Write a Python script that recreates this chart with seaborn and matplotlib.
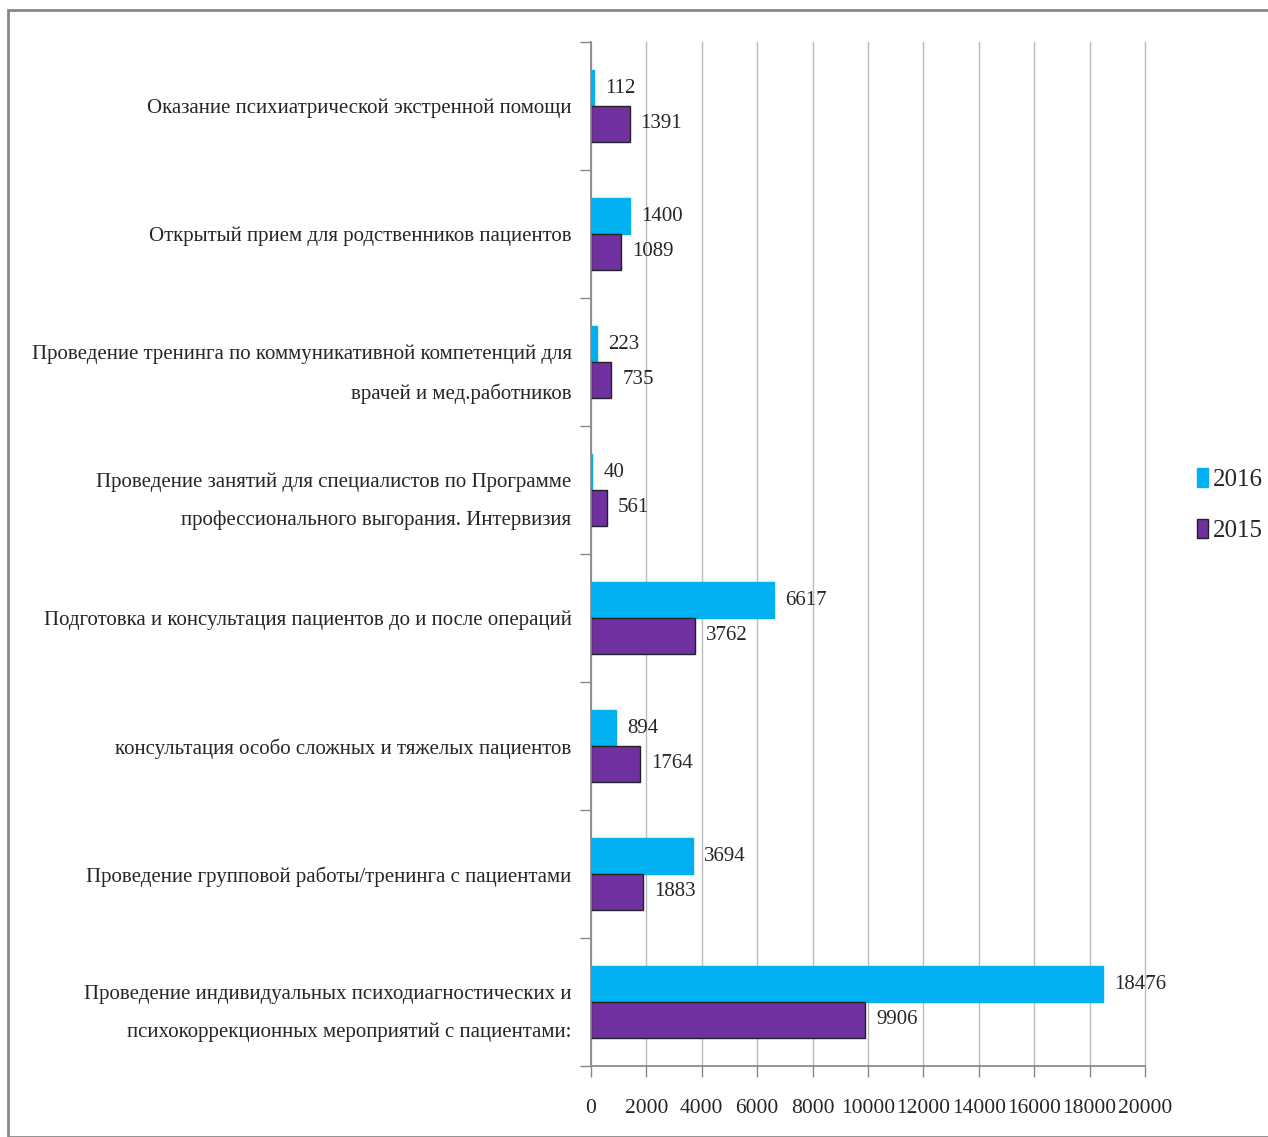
import matplotlib
matplotlib.use("Agg")
import matplotlib.pyplot as plt
import seaborn as sns
import pandas as pd
from matplotlib.patches import Rectangle

categories = [
    "Оказание психиатрической экстренной помощи",
    "Открытый прием для родственников пациентов",
    "Проведение тренинга по коммуникативной компетенций для\nврачей и мед.работников",
    "Проведение занятий для специалистов по Программе\nпрофессионального выгорания. Интервизия",
    "Подготовка и консультация пациентов до и после операций",
    "консультация особо сложных и тяжелых пациентов",
    "Проведение групповой работы/тренинга с пациентами",
    "Проведение индивидуальных психодиагностических и\nпсихокоррекционных мероприятий с пациентами:",
]
values_2016 = [112, 1400, 223, 40, 6617, 894, 3694, 18476]
values_2015 = [1391, 1089, 735, 561, 3762, 1764, 1883, 9906]
years = ["2016", "2015"]
x_ticks = [0, 2000, 4000, 6000, 8000, 10000, 12000, 14000, 16000, 18000, 20000]

df = pd.DataFrame({
    "category": categories * 2,
    "value": values_2016 + values_2015,
    "year": ["2016"] * len(categories) + ["2015"] * len(categories),
})

sns.set_theme(style="white")
plt.rcParams["font.family"] = ["Liberation Serif", "DejaVu Serif"]

fig = plt.figure(figsize=(12.68, 11.37), dpi=100)
ax = fig.add_axes([591 / 1268, 1 - 1066 / 1137, (1145 - 591) / 1268, (1066 - 42) / 1137])

palette = {"2016": "#00B0F0", "2015": "#7030A0"}
sns.barplot(data=df, x="value", y="category", hue="year", hue_order=years,
            palette=palette, orient="h", width=0.56, ax=ax, saturation=1,
            edgecolor="#222222", linewidth=1.0, legend=False)

for bar_container, yr in zip(ax.containers, years):
    for p in bar_container:
        if yr == "2016":
            p.set_edgecolor("#00B0F0")
    ax.bar_label(bar_container, fmt="%d", padding=8, fontsize=15)

ax.set_xlim(0, 20000)
ax.set_xticks(x_ticks)
ax.set_xticklabels([str(t) for t in x_ticks], fontsize=15.5)
ax.set_xlabel("")
ax.set_ylabel("")
ax.tick_params(axis="y", labelsize=15, length=8, width=1, color="#888888", left=True, pad=8)
ax.tick_params(axis="x", length=8, width=1, color="#888888", bottom=True, pad=16)
ax.grid(axis="x", color="#BBBBBB", linewidth=1)
for gl in ax.get_xgridlines():
    gl.set_clip_on(False)
ax.set_axisbelow(True)
for s in ["top", "right"]:
    ax.spines[s].set_visible(False)
ax.spines["left"].set_color("#888888")
ax.spines["bottom"].set_color("#888888")
n = len(categories)
ax.set_yticks([i - 0.5 for i in range(n + 1)], minor=False)
ax.set_yticklabels([""] * (n + 1))
ax.set_yticks(range(n), minor=True)
ax.set_yticklabels(categories, minor=True, fontsize=15, linespacing=2.25)
ax.tick_params(axis="y", which="minor", length=0, pad=14)
ax.set_ylim(n - 0.5, -0.5)

handles = [Rectangle((0, 0), 1, 1, facecolor=palette[y], edgecolor="#222222" if y == "2015" else palette[y]) for y in years]
fig.legend(handles, years, loc="center left", bbox_to_anchor=(1197 / 1268, 1 - 505 / 1137),
           frameon=False, fontsize=18, handlelength=0.45, handleheight=0.8, handletextpad=0.2,
           labelspacing=1.1, borderpad=0, borderaxespad=0)

fig.add_artist(Rectangle((8 / 1268, 0), 1.0, 1 - 10 / 1137, transform=fig.transFigure,
                         fill=False, edgecolor="#888888", linewidth=2))

fig.savefig("out.png", dpi=100)
